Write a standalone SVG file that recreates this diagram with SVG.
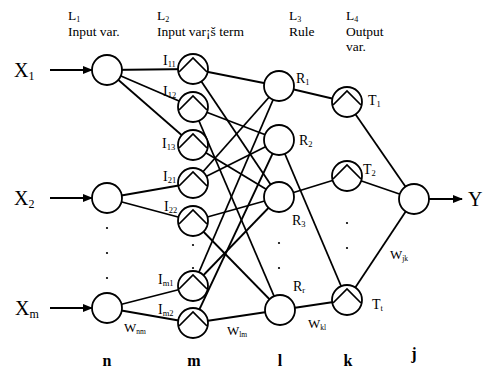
<svg xmlns="http://www.w3.org/2000/svg" width="483" height="371" viewBox="0 0 483 371">
  <style>
    .ln { stroke: #000; stroke-width: 1.8; fill: none; }
    .nd { fill: #fff; stroke: #000; stroke-width: 1.8; }
    .mf { fill: none; stroke: #000; stroke-width: 1.7; stroke-linejoin: miter; }
    text { font-family: "Liberation Serif", "Times New Roman", serif; fill: #000; }
    .hd { font-size: 13.5px; }
    .hs { font-size: 8px; }
    .xl { font-size: 20px; }
    .xs { font-size: 12px; }
    .nl { font-size: 14px; }
    .ns { font-size: 8.5px; }
    .wl { font-size: 13px; }
    .ws { font-size: 7.5px; }
    .ll { font-size: 16px; font-weight: bold; }
    .dot { fill: #000; }
  </style>
  <defs>
    <marker id="ah" markerWidth="10" markerHeight="8" refX="9" refY="4" orient="auto" markerUnits="userSpaceOnUse">
      <path d="M0,0 L10,4 L0,8 z" fill="#000"/>
    </marker>
    <path id="tri" d="M-14,3 L0,-11 L14,3"/>
  </defs>

  <!-- layer headers -->
  <g id="headers">
    <text class="hd" x="68" y="20">L<tspan class="hs" dy="2">1</tspan></text>
    <text class="hd" x="68" y="36">Input var.</text>
    <text class="hd" x="157" y="20">L<tspan class="hs" dy="2">2</tspan></text>
    <text class="hd" x="157" y="36">Input var¡š term</text>
    <text class="hd" x="289" y="20">L<tspan class="hs" dy="2">3</tspan></text>
    <text class="hd" x="289" y="36">Rule</text>
    <text class="hd" x="346" y="20">L<tspan class="hs" dy="2">4</tspan></text>
    <text class="hd" x="346" y="36">Output</text>
    <text class="hd" x="346" y="51">var.</text>
  </g>

  <!-- connectors -->
  <g id="connectors">
    <!-- inputs -->
    <line class="ln" x1="50" y1="70" x2="92" y2="70" marker-end="url(#ah)"/>
    <line class="ln" x1="50" y1="198" x2="92" y2="198" marker-end="url(#ah)"/>
    <line class="ln" x1="50" y1="308" x2="92" y2="308" marker-end="url(#ah)"/>
    <!-- layer 1 to layer 2 -->
    <line class="ln" x1="107" y1="70" x2="193" y2="69"/>
    <line class="ln" x1="107" y1="70" x2="193" y2="107"/>
    <line class="ln" x1="107" y1="70" x2="193" y2="145"/>
    <line class="ln" x1="107" y1="198" x2="193" y2="183"/>
    <line class="ln" x1="107" y1="198" x2="193" y2="221"/>
    <line class="ln" x1="107" y1="308" x2="193" y2="286"/>
    <line class="ln" x1="107" y1="308" x2="193" y2="323"/>
    <!-- layer 2 to layer 3 -->
    <line class="ln" x1="193" y1="69" x2="279" y2="86"/>
    <line class="ln" x1="193" y1="69" x2="279" y2="197"/>
    <line class="ln" x1="193" y1="107" x2="279" y2="140"/>
    <line class="ln" x1="193" y1="107" x2="280" y2="310"/>
    <line class="ln" x1="193" y1="145" x2="279" y2="197"/>
    <line class="ln" x1="193" y1="183" x2="279" y2="86"/>
    <line class="ln" x1="193" y1="183" x2="279" y2="140"/>
    <line class="ln" x1="193" y1="221" x2="279" y2="197"/>
    <line class="ln" x1="193" y1="221" x2="280" y2="310"/>
    <line class="ln" x1="193" y1="286" x2="279" y2="86"/>
    <line class="ln" x1="193" y1="286" x2="279" y2="197"/>
    <line class="ln" x1="193" y1="323" x2="279" y2="140"/>
    <line class="ln" x1="193" y1="323" x2="280" y2="310"/>
    <!-- layer 3 to layer 4 -->
    <line class="ln" x1="279" y1="86" x2="347" y2="102"/>
    <line class="ln" x1="279" y1="140" x2="347" y2="300"/>
    <line class="ln" x1="279" y1="197" x2="347" y2="176"/>
    <line class="ln" x1="280" y1="310" x2="347" y2="300"/>
    <!-- layer 4 to output -->
    <line class="ln" x1="347" y1="102" x2="414" y2="199"/>
    <line class="ln" x1="347" y1="176" x2="414" y2="199"/>
    <line class="ln" x1="347" y1="300" x2="414" y2="199"/>
    <line class="ln" x1="429" y1="199" x2="462" y2="199" marker-end="url(#ah)"/>
  </g>

  <!-- input labels -->
  <g id="inputs">
    <text class="xl" x="14" y="77">X<tspan class="xs" dy="3">1</tspan></text>
    <text class="xl" x="14" y="205">X<tspan class="xs" dy="3">2</tspan></text>
    <text class="xl" x="15" y="315">X<tspan class="xs" dy="3">m</tspan></text>
  </g>

  <!-- layer 1 nodes -->
  <g id="n-x1"><circle class="nd" cx="107" cy="70" r="15"/></g>
  <g id="n-x2"><circle class="nd" cx="107" cy="198" r="15"/></g>
  <g id="n-xm"><circle class="nd" cx="107" cy="308" r="15"/></g>

  <!-- layer 2 nodes -->
  <g id="n-I11"><circle class="nd" cx="193" cy="69" r="15"/><use href="#tri" class="mf" x="193" y="69"/>
    <text class="nl" x="163" y="65">I<tspan class="ns" dy="2">11</tspan></text></g>
  <g id="n-I12"><circle class="nd" cx="193" cy="107" r="15"/><use href="#tri" class="mf" x="193" y="107"/>
    <text class="nl" x="163" y="96">I<tspan class="ns" dy="2">12</tspan></text></g>
  <g id="n-I13"><circle class="nd" cx="193" cy="145" r="15"/><use href="#tri" class="mf" x="193" y="145"/>
    <text class="nl" x="162" y="148">I<tspan class="ns" dy="2">13</tspan></text></g>
  <g id="n-I21"><circle class="nd" cx="193" cy="183" r="15"/><use href="#tri" class="mf" x="193" y="183"/>
    <text class="nl" x="163" y="181">I<tspan class="ns" dy="2">21</tspan></text></g>
  <g id="n-I22"><circle class="nd" cx="193" cy="221" r="15"/><use href="#tri" class="mf" x="193" y="221"/>
    <text class="nl" x="164" y="211">I<tspan class="ns" dy="2">22</tspan></text></g>
  <g id="n-Im1"><circle class="nd" cx="193" cy="286" r="15"/><use href="#tri" class="mf" x="193" y="286"/>
    <text class="nl" x="158" y="284">I<tspan class="ns" dy="2">m1</tspan></text></g>
  <g id="n-Im2"><circle class="nd" cx="193" cy="323" r="15"/><use href="#tri" class="mf" x="193" y="323"/>
    <text class="nl" x="158" y="314">I<tspan class="ns" dy="2">m2</tspan></text></g>

  <!-- layer 3 nodes -->
  <g id="n-R1"><circle class="nd" cx="279" cy="86" r="15"/>
    <text class="nl" x="296" y="83">R<tspan class="ns" dy="2">1</tspan></text></g>
  <g id="n-R2"><circle class="nd" cx="279" cy="140" r="15"/>
    <text class="nl" x="299" y="145">R<tspan class="ns" dy="2">2</tspan></text></g>
  <g id="n-R3"><circle class="nd" cx="279" cy="197" r="15"/>
    <text class="nl" x="292" y="225">R<tspan class="ns" dy="2">3</tspan></text></g>
  <g id="n-Rr"><circle class="nd" cx="280" cy="310" r="15"/>
    <text class="nl" x="293" y="291">R<tspan class="ns" dy="2">r</tspan></text></g>

  <!-- layer 4 nodes -->
  <g id="n-T1"><circle class="nd" cx="347" cy="102" r="15"/><use href="#tri" class="mf" x="347" y="102"/>
    <text class="nl" x="368" y="105">T<tspan class="ns" dy="2">1</tspan></text></g>
  <g id="n-T2"><circle class="nd" cx="347" cy="176" r="15"/><use href="#tri" class="mf" x="347" y="176"/>
    <text class="nl" x="363" y="174">T<tspan class="ns" dy="2">2</tspan></text></g>
  <g id="n-Tt"><circle class="nd" cx="347" cy="300" r="15"/><use href="#tri" class="mf" x="347" y="300"/>
    <text class="nl" x="372" y="309">T<tspan class="ns" dy="2">t</tspan></text></g>

  <!-- output node -->
  <g id="n-out"><circle class="nd" cx="414" cy="199" r="15"/></g>
  <g id="output-label"><text class="xl" x="468" y="206">Y</text></g>

  <!-- continuation dots -->
  <g id="dots">
    <circle class="dot" cx="107" cy="228" r="1.1"/>
    <circle class="dot" cx="107" cy="253" r="1.1"/>
    <circle class="dot" cx="107" cy="278" r="1.1"/>
    <circle class="dot" cx="193" cy="245" r="1.1"/>
    <circle class="dot" cx="193" cy="268" r="1.1"/>
    <circle class="dot" cx="279" cy="243" r="1.1"/>
    <circle class="dot" cx="279" cy="268" r="1.1"/>
    <circle class="dot" cx="347" cy="223" r="1.1"/>
    <circle class="dot" cx="347" cy="248" r="1.1"/>
  </g>

  <!-- weight labels -->
  <g id="weights">
    <text class="wl" x="124" y="332">W<tspan class="ws" dy="2">nm</tspan></text>
    <text class="wl" x="227" y="335">W<tspan class="ws" dy="2">lm</tspan></text>
    <text class="wl" x="308" y="328">W<tspan class="ws" dy="2">kl</tspan></text>
    <text class="wl" x="390" y="259">W<tspan class="ws" dy="2">jk</tspan></text>
  </g>

  <!-- layer index letters -->
  <g id="indices">
    <text class="ll" x="107" y="366" text-anchor="middle">n</text>
    <text class="ll" x="194" y="366" text-anchor="middle">m</text>
    <text class="ll" x="280" y="366" text-anchor="middle">l</text>
    <text class="ll" x="348" y="366" text-anchor="middle">k</text>
    <text class="ll" x="414" y="359" text-anchor="middle">j</text>
  </g>
</svg>
